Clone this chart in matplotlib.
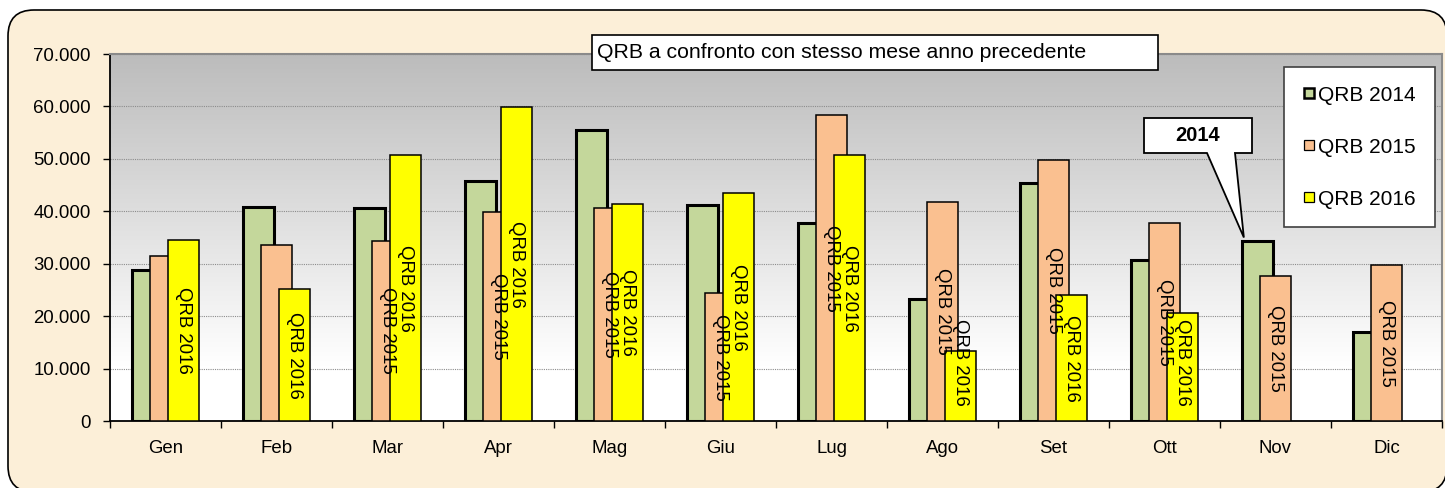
import matplotlib.pyplot as plt
import numpy as np
from matplotlib.patches import FancyBboxPatch, Rectangle, Polygon
from matplotlib.lines import Line2D
from matplotlib.colors import LinearSegmentedColormap
from matplotlib.ticker import FuncFormatter, MultipleLocator
from matplotlib.transforms import IdentityTransform

plt.rcParams['font.family'] = ['Liberation Sans', 'DejaVu Sans']

# dati
mesi = ['Gen', 'Feb', 'Mar', 'Apr', 'Mag', 'Giu', 'Lug', 'Ago', 'Set', 'Ott', 'Nov', 'Dic']
qrb_2014 = [28800, 40900, 40700, 45800, 55500, 41200, 37800, 23300, 45400, 30700, 34300, 17000]
qrb_2015 = [31400, 33500, 34400, 39900, 40700, 24400, 58400, 41800, 49800, 37800, 27700, 29800]
qrb_2016 = [34500, 25200, 50700, 59900, 41300, 43500, 50700, 13400, 24000, 20600]
etichette_2015 = [False, False, True, True, True, True, True, True, True, True, True, True]
etichette_2016 = [True, True, True, True, True, True, True, True, True, True]

W, H = 1445, 488
fig = plt.figure(figsize=(W / 100, H / 100), dpi=100)
fig.patch.set_facecolor('white')

# sfondo pergamena arrotondato
sfondo = FancyBboxPatch((8, -4), 1439, 482, boxstyle='round,pad=0,rounding_size=26',
                        transform=IdentityTransform(), facecolor='#fcefd8',
                        edgecolor='black', linewidth=1.2, zorder=0)
fig.add_artist(sfondo)

ax = fig.add_axes([110 / W, 1 - 421 / H, (1442 - 110) / W, (421 - 54) / H])
ax.set_facecolor('none')
ax.set_xlim(-0.5, 11.5)
ax.set_ylim(0, 70000)

cmap = LinearSegmentedColormap.from_list('grad', [(0, 'white'), (0.15, 'white'), (1, '#bcbcbc')])
ax.imshow(np.linspace(0, 1, 256).reshape(-1, 1), cmap=cmap, extent=[-0.5, 11.5, 0, 70000],
          aspect='auto', origin='lower', zorder=0)

ax.yaxis.set_major_locator(MultipleLocator(10000))
ax.yaxis.set_major_formatter(FuncFormatter(lambda v, p: f'{v:,.0f}'.replace(',', '.')))
ax.grid(axis='y', color='#8c8c8c', linestyle=(0, (1, 1)), linewidth=0.8, zorder=1)

x = np.arange(len(mesi))
larg = 0.28
off = 0.165

ax.bar(x - off, qrb_2014, larg, color='#c4d79b', edgecolor='black', linewidth=2.2, zorder=3)
ax.bar(x, qrb_2015, larg, color='#fac090', edgecolor='black', linewidth=1.1, zorder=4)
x16 = x[:len(qrb_2016)]
ax.bar(x16 + off, qrb_2016, larg, color='#ffff00', edgecolor='black', linewidth=1.1, zorder=5)

def posizione(v):
    return max(v / 2, 11250)

for i, v in enumerate(qrb_2015):
    if etichette_2015[i]:
        ax.text(x[i], posizione(v), 'QRB 2015', rotation=270, ha='center', va='center',
                fontsize=13.4, zorder=6, clip_on=False)
for i, v in enumerate(qrb_2016):
    if etichette_2016[i]:
        ax.text(x16[i] + off, posizione(v), 'QRB 2016', rotation=270, ha='center', va='center',
                fontsize=13.4, zorder=6, clip_on=False)

ax.set_xticks(x)
ax.set_xticklabels(mesi, fontsize=13.4)
ax.set_xticks(np.arange(-0.5, 12, 1), minor=True)
ax.tick_params(axis='x', which='major', length=0, pad=14)
ax.tick_params(axis='x', which='minor', length=5, width=1, direction='out')
ax.tick_params(axis='y', length=5, width=1, direction='out', labelsize=13.4, pad=9)

for s in ['left', 'bottom']:
    ax.spines[s].set_color('black')
    ax.spines[s].set_linewidth(1.3)
for s in ['top', 'right']:
    ax.spines[s].set_color('#8a8a8a')
    ax.spines[s].set_linewidth(1.5)

# legenda
maniglie = [
    Line2D([], [], marker='s', ls='none', markersize=7, markerfacecolor='#c4d79b',
           markeredgecolor='black', markeredgewidth=1.8),
    Line2D([], [], marker='s', ls='none', markersize=7, markerfacecolor='#fac090',
           markeredgecolor='black', markeredgewidth=0.9),
    Line2D([], [], marker='s', ls='none', markersize=7, markerfacecolor='#ffff00',
           markeredgecolor='black', markeredgewidth=0.9),
]
leg = ax.legend(maniglie, ['QRB 2014', 'QRB 2015', 'QRB 2016'], loc='upper left',
                bbox_to_anchor=(1284 / W, 1 - 67 / H), bbox_transform=fig.transFigure,
                fontsize=15, labelspacing=1.58, borderpad=0.9, handlelength=0.6,
                handletextpad=0.15, borderaxespad=0, fancybox=False, framealpha=1,
                edgecolor='#404040')
leg.get_frame().set_linewidth(1.2)
leg.set_zorder(10)

# riquadro titolo
fig.add_artist(Rectangle((592, H - 70), 566, 35, transform=IdentityTransform(),
                         facecolor='white', edgecolor='black', linewidth=1.2, zorder=20))
fig.text(597 / W, 1 - 53 / H, 'QRB a confronto con stesso mese anno precedente',
         ha='left', va='center', fontsize=15.3, zorder=21)

# fumetto 2014
punta = ax.transData.transform((x[10] - off - 0.12, qrb_2014[10] + 700))
x0, x1, yb, yt = 1144, 1252, H - 153, H - 118
fumetto = Polygon([(x0, yt), (x1, yt), (x1, yb), (1235, yb), tuple(punta), (1207, yb), (x0, yb)],
                  closed=True, transform=IdentityTransform(), facecolor='white',
                  edgecolor='black', linewidth=1.3, zorder=20)
fig.add_artist(fumetto)
fig.text((x0 + x1) / 2 / W, (yb + yt) / 2 / H, '2014', ha='center', va='center',
         fontsize=14.5, fontweight='bold', zorder=21)

fig.savefig('out.png', dpi=100)
